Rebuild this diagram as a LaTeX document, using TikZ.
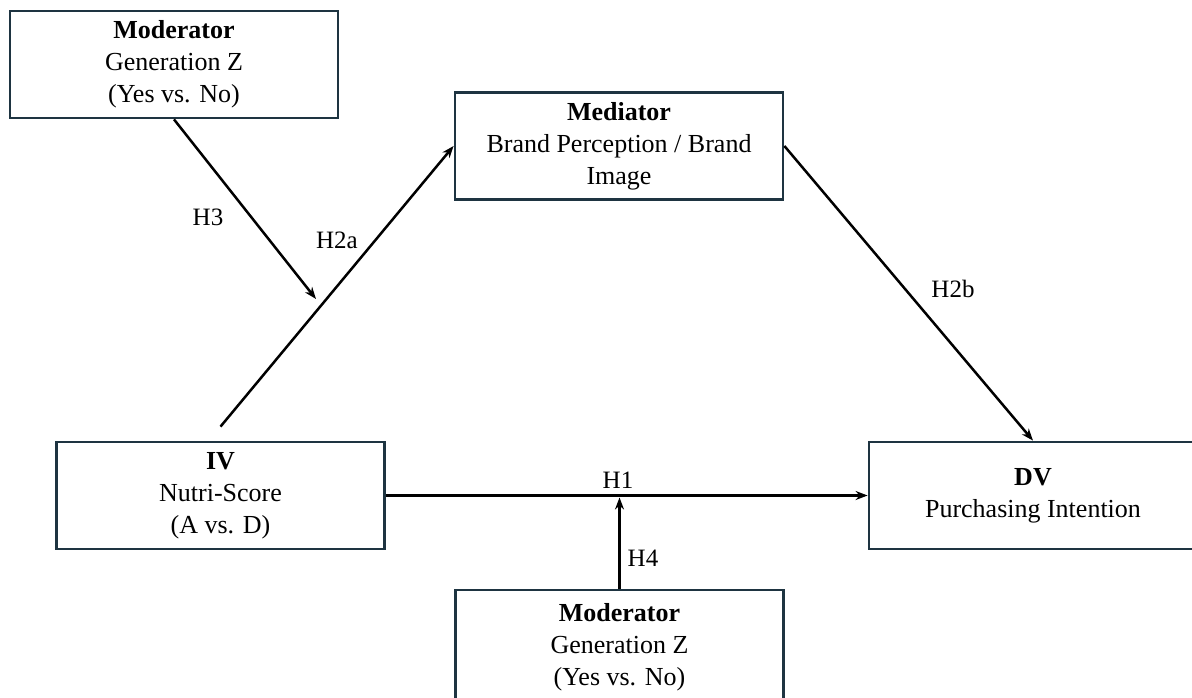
\documentclass[tikz,border=0pt]{standalone}
\usepackage{fontspec}
\setmainfont{Liberation Serif}
\usetikzlibrary{arrows.meta}
\definecolor{boxline}{HTML}{1E3441}
\tikzset{
  box/.style={draw=boxline, line width=2.8pt, minimum width=328pt, minimum height=107pt,
    inner sep=0pt, align=center, font=\fontsize{26}{32}\selectfont},
  conn/.style={line width=2.5pt, -{Stealth[length=12pt,width=9pt]}},
  lab/.style={font=\fontsize{25}{28}\selectfont, inner sep=0pt}
}
\begin{document}
\begin{tikzpicture}[x=1pt,y=-1pt]
\useasboundingbox (0,0) rectangle (1192,698);
\clip (0,0) rectangle (1192,698);
\node[box] (mod1) at (174,64.5) {\textbf{Moderator}\\Generation Z\\(Yes vs. No)};
\node[box] (med) at (619,146) {\textbf{Mediator}\\Brand Perception / Brand\\Image};
\node[box] (iv) at (220.5,495.5) {\textbf{IV}\\Nutri-Score\\(A vs. D)};
\node[box] (dv) at (1033,495.5) {\textbf{DV}\\Purchasing Intention};
\node[box, minimum height=114pt] (mod2) at (619.5,647) {\textbf{Moderator}\\Generation Z\\(Yes vs. No)};
\coordinate (h3end) at (316,299);
\coordinate (h1mid) at (619.5,495.5);
\draw[conn] (mod1.south) -- (h3end);
\draw[conn] ([yshift=14pt]iv.north) -- (med.west);
\draw[conn] (med.east) -- (dv.north);
\draw[conn] (iv.east) -- (dv.west);
\draw[conn, shorten >=2pt] (mod2.north) -- (h1mid);
\node[lab] (lh3) at (208,217) {H3};
\node[lab] (lh2a) at (337,240) {H2a};
\node[lab] (lh2b) at (953,289) {H2b};
\node[lab] (lh1) at (618,480) {H1};
\node[lab] (lh4) at (643,558) {H4};
\end{tikzpicture}
\end{document}
